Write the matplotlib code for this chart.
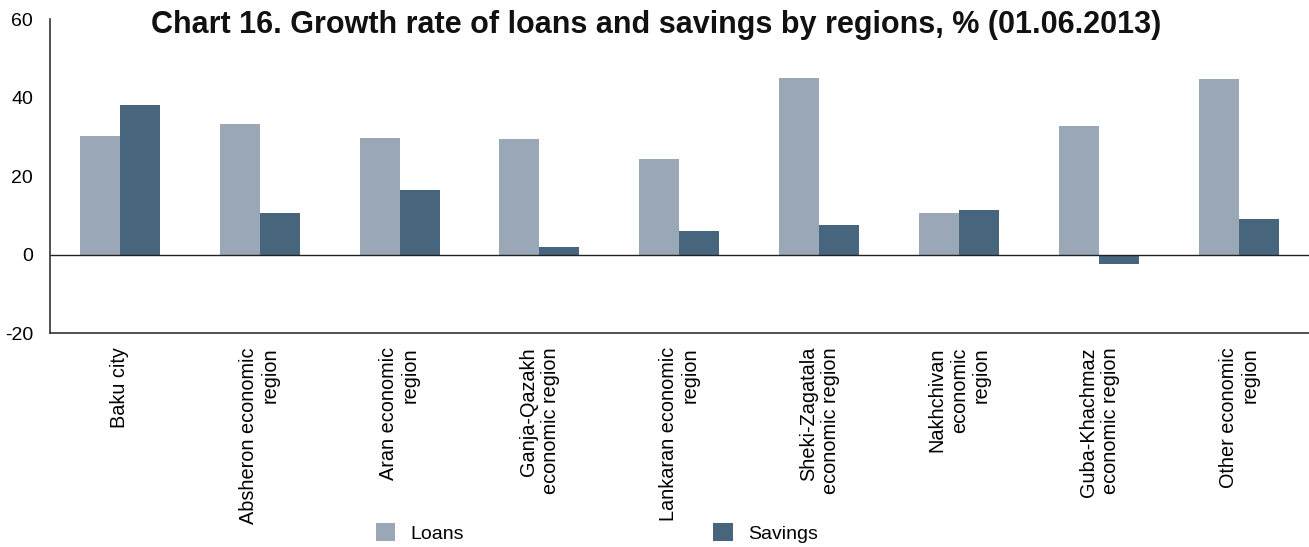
import numpy as np
import matplotlib
matplotlib.use("Agg")
from matplotlib import pyplot as plt

plt.rcParams['font.family'] = ['Liberation Sans', 'DejaVu Sans']
plt.rcParams['axes.unicode_minus'] = False

# regions and growth rates, %
regions = ['Baku city',
           'Absheron economic\nregion',
           'Aran economic\nregion',
           'Ganja-Qazakh\neconomic region',
           'Lankaran economic\nregion',
           'Sheki-Zagatala\neconomic region',
           'Nakhchivan\neconomic\nregion',
           'Guba-Khachmaz\neconomic region',
           'Other economic\nregion']
loans = [30.2, 33.3, 29.7, 29.4, 24.3, 45.0, 10.5, 32.8, 44.8]
savings = [38.1, 10.5, 16.4, 1.9, 6.0, 7.5, 11.3, -2.5, 9.0]

c_loans = '#9aa7b6'
c_savings = '#48657e'

fig = plt.figure(figsize=(13.09, 5.47), dpi=100)
ax = fig.add_axes([0.038, 0.391, 0.962, 0.574])

x = np.arange(len(regions))
w = 0.286
ax.bar(x - w / 2, loans, w, color=c_loans, label='Loans')
ax.bar(x + w / 2, savings, w, color=c_savings, label='Savings')

ax.set_xlim(-0.5, len(regions) - 0.5)
ax.set_ylim(-20, 60)
ax.set_yticks([-20, 0, 20, 40, 60])
ax.axhline(0, color='#222222', lw=1)

ax.set_xticks(x)
ax.set_xticklabels(regions, rotation=90, ha='center', va='top',
                   multialignment='right', fontsize=14.3)
ax.tick_params(axis='x', length=0, pad=10)
ax.tick_params(axis='y', length=0, pad=12, labelsize=14)

for s in ['top', 'right']:
    ax.spines[s].set_visible(False)
for s in ['left', 'bottom']:
    ax.spines[s].set_color('#333333')
    ax.spines[s].set_linewidth(1.2)

fig.text(0.501, 0.955, 'Chart 16. Growth rate of loans and savings by regions, % (01.06.2013)',
         ha='center', va='center', fontsize=22, fontweight='bold', color='#111111')

fig.legend(loc='lower center', bbox_to_anchor=(0.456, -0.024), ncol=2, frameon=False,
           fontsize=14, handlelength=1.0, handleheight=1.0, columnspacing=12.8)

fig.savefig('out.png', dpi=100)
